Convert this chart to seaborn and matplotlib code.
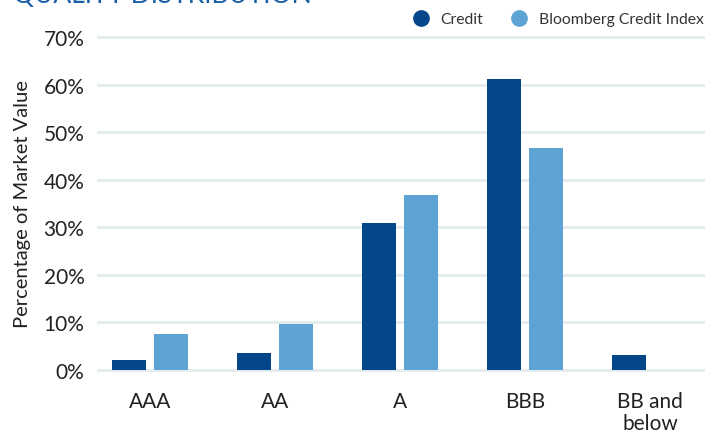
import pandas as pd
import matplotlib.pyplot as plt
import seaborn as sns
from matplotlib.lines import Line2D
from matplotlib.ticker import FuncFormatter

# Quality distribution data (percent of market value)
ratings = ["AAA", "AA", "A", "BBB", "BB and\nbelow"]
credit = [2.1, 3.6, 30.9, 61.1, 3.2]
bloomberg = [7.6, 9.7, 36.8, 46.6, 0.0]
series_names = ["Credit", "Bloomberg Credit Index"]
colors = ["#03468a", "#5da4d4"]

df = pd.DataFrame({
    "rating": ratings * 2,
    "value": credit + bloomberg,
    "series": [series_names[0]] * len(ratings) + [series_names[1]] * len(ratings),
})

sns.set_style("white")
plt.rcParams["font.family"] = ["Lato", "DejaVu Sans"]

fig = plt.figure(figsize=(7.05, 4.31), dpi=100)
W, H = 705, 431
ax = fig.add_axes([97 / W, 1 - 373 / H, (705 - 97) / W, (373 - 36) / H])

sns.barplot(data=df, x="rating", y="value", hue="series", palette=colors,
            width=0.672, gap=0.214, saturation=1, linewidth=0,
            legend=False, ax=ax)

ax.set_xlim(-0.424, 4.44)
ax.set_ylim(-0.42, 70.42)
ax.set_yticks(range(0, 71, 10))
ax.yaxis.set_major_formatter(FuncFormatter(lambda v, p: f"{v:.0f}%"))
ax.grid(axis="y", color="#e3ebee", linewidth=2)
ax.set_axisbelow(True)
for s in ax.spines.values():
    s.set_visible(False)
ax.tick_params(axis="both", length=0, labelsize=15, colors="#222222")
ax.tick_params(axis="y", pad=9)
ax.tick_params(axis="x", pad=14)
for lbl in ax.get_xticklabels():
    lbl.set_linespacing(1.1)
ax.set_xlabel("")
ax.set_ylabel("Percentage of Market Value", fontsize=14.5, color="#222222", labelpad=9)

# legend with round markers
handles = [Line2D([], [], marker="o", linestyle="", markersize=11,
                  markerfacecolor=c, markeredgecolor=c) for c in colors]
fig.legend(handles, series_names, loc="center right", ncol=2,
           bbox_to_anchor=(1.0 + 6 / W, 1 - 20 / H), frameon=False, fontsize=11.3,
           handletextpad=0.25, columnspacing=1.3, borderaxespad=0.05,
           labelcolor="#333333")

# title, cut off at the top edge
fig.text(13 / W, 1 - 3 / H, "QUALITY DISTRIBUTION", color="#1a5ea8",
         fontsize=19, ha="left", va="baseline")

fig.savefig("out.png", dpi=100)
